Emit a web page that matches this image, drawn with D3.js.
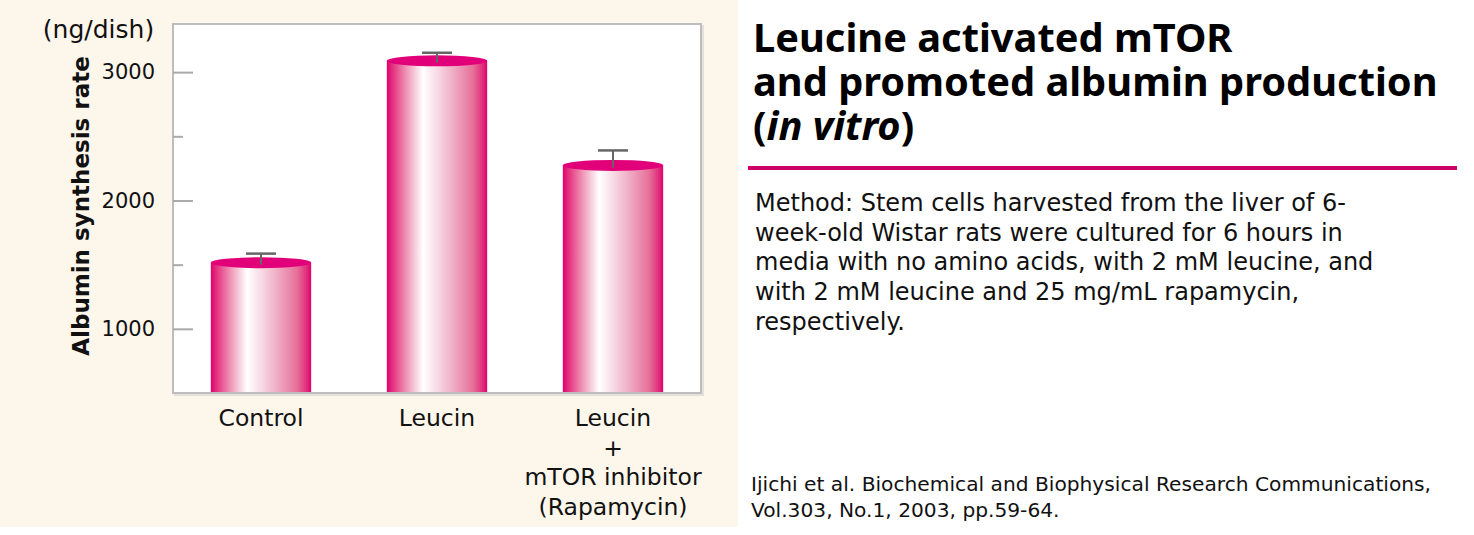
<!DOCTYPE html>
<html><head><meta charset="utf-8">
<script src="https://cdn.jsdelivr.net/npm/d3@7"></script>
<style>
html,body{margin:0;padding:0;background:#fff;}
svg{display:block;}
</style></head>
<body>
<svg id="c" width="1474" height="535"></svg>
<script>
// ---- data ----
const categories = ["Control", "Leucin", "Leucin|+|mTOR inhibitor|(Rapamycin)"];
const values = [1515, 3088, 2273];
const errorTops = [1586, 3151, 2390];
const majorTicks = [1000, 2000, 3000];
const minorTicks = [1500, 2500];
const unitLabel = "(ng/dish)";
const yTitle = "Albumin synthesis rate";
const titleLines = ["Leucine activated mTOR", "and promoted albumin production"];
const methodLines = [
  "Method: Stem cells harvested from the liver of 6-",
  "week-old Wistar rats were cultured for 6 hours in",
  "media with no amino acids, with 2 mM leucine, and",
  "with 2 mM leucine and 25 mg/mL rapamycin,",
  "respectively."
];
const citeLines = [
  "Ijichi et al. Biochemical and Biophysical Research Communications,",
  "Vol.303, No.1, 2003, pp.59-64."
];

const svg = d3.select("#c");
const chartFont = "'DejaVu Sans', Verdana, sans-serif";

// cream panel
svg.append("rect").attr("x",0).attr("y",0).attr("width",738).attr("height",527).attr("fill","#fcf6eb");

const plot = {left:173, top:24, right:701, bottom:393};
const y = d3.scaleLinear().domain([500, 3375]).range([plot.bottom, plot.top]);
const x = d3.scaleBand().domain(categories).range([plot.left, plot.right]).padding(0);
const barW = x.bandwidth() * 0.57;

// frame shadow + plot area
svg.append("rect").attr("x",plot.left+2).attr("y",plot.top+2)
  .attr("width",plot.right-plot.left).attr("height",plot.bottom-plot.top)
  .attr("fill","none").attr("stroke","#e4e0da").attr("stroke-width",2);
svg.append("rect").attr("x",plot.left).attr("y",plot.top)
  .attr("width",plot.right-plot.left).attr("height",plot.bottom-plot.top)
  .attr("fill","#ffffff");

// gradient
const defs = svg.append("defs");
const g = defs.append("linearGradient").attr("id","barGrad").attr("x1","0%").attr("x2","100%").attr("y1","0%").attr("y2","0%");
[[0,"#e2006f"],[0.06,"#e4337f"],[0.2,"#ef98b8"],[0.36,"#ffffff"],[0.5,"#f8dbe5"],[0.68,"#eea7c1"],[0.86,"#e67099"],[0.96,"#e02a7a"],[1,"#e0006e"]]
  .forEach(([o,c]) => g.append("stop").attr("offset",o).attr("stop-color",c));

// bars
const bars = svg.append("g");
categories.forEach((c,i) => {
  const cx = x(c) + x.bandwidth()/2;
  bars.append("rect").attr("x",cx-barW/2).attr("y",y(values[i])).attr("width",barW)
    .attr("height",plot.bottom - y(values[i])).attr("fill","url(#barGrad)");
  bars.append("ellipse").attr("cx",cx).attr("cy",y(values[i])).attr("rx",barW/2).attr("ry",5.5)
    .attr("fill","#e2007a");
  // error bar
  bars.append("line").attr("x1",cx).attr("x2",cx).attr("y1",y(values[i])+2).attr("y2",y(errorTops[i]))
    .attr("stroke","#666").attr("stroke-width",2);
  bars.append("line").attr("x1",cx-15).attr("x2",cx+15).attr("y1",y(errorTops[i])).attr("y2",y(errorTops[i]))
    .attr("stroke","#666").attr("stroke-width",2.5);
});

// frame
svg.append("rect").attr("x",plot.left).attr("y",plot.top)
  .attr("width",plot.right-plot.left).attr("height",plot.bottom-plot.top)
  .attr("fill","none").attr("stroke","#bdbdbd").attr("stroke-width",2);

// y axis major
const yAxis = svg.append("g").attr("transform",`translate(${plot.left},0)`)
  .call(d3.axisLeft(y).tickValues(majorTicks).tickSizeInner(-20).tickSizeOuter(0).tickPadding(18).tickFormat(d3.format("d")));
yAxis.select(".domain").remove();
yAxis.selectAll(".tick line").attr("stroke","#aaaaaa").attr("stroke-width",2);
yAxis.selectAll(".tick text").attr("font-family",chartFont).attr("font-size",21).attr("fill","#111");
// y axis minor
const yMinor = svg.append("g").attr("transform",`translate(${plot.left},0)`)
  .call(d3.axisLeft(y).tickValues(minorTicks).tickSizeInner(-10).tickSizeOuter(0).tickFormat(""));
yMinor.select(".domain").remove();
yMinor.selectAll(".tick line").attr("stroke","#aaaaaa").attr("stroke-width",2);

// x axis
const xAxis = svg.append("g").attr("transform",`translate(0,${plot.bottom})`)
  .call(d3.axisBottom(x).tickSize(0).tickPadding(0));
xAxis.select(".domain").remove();
xAxis.selectAll(".tick text").each(function(d){
  const t = d3.select(this);
  t.text(null).attr("font-family",chartFont).attr("font-size",23.5).attr("fill","#111").attr("dy",null).attr("y",0);
  d.split("|").forEach((line,k) => {
    t.append("tspan").attr("x",0).attr("y",33 + k*29.5).text(line);
  });
});

// unit label
svg.append("text").attr("x",98.5).attr("y",38).attr("text-anchor","middle")
  .attr("font-family",chartFont).attr("font-size",25).attr("fill","#111").text(unitLabel);
// y title
svg.append("text").attr("transform",`translate(89,206) rotate(-90)`)
  .attr("text-anchor","middle").attr("font-family",chartFont).attr("font-weight","bold")
  .attr("font-size",23).attr("fill","#111").text(yTitle);

// right panel
const titleFont = "'Noto Sans', 'Open Sans', sans-serif";
const tg = svg.append("g").attr("font-family",titleFont).attr("font-weight","bold").attr("font-size",39.8).attr("fill","#000");
titleLines.forEach((l,i) => tg.append("text").attr("x",753).attr("y",52 + i*44).text(l));
const t3 = tg.append("text").attr("x",753).attr("y",140);
t3.append("tspan").text("(");
t3.append("tspan").attr("font-style","italic").text("in vitro");
t3.append("tspan").text(")");

svg.append("rect").attr("x",748).attr("y",166).attr("width",709).attr("height",4).attr("fill","#cc0066");

const mg = svg.append("g").attr("font-family",chartFont).attr("font-size",24).attr("fill","#111");
methodLines.forEach((l,i) => mg.append("text").attr("x",755).attr("y",211 + i*29.7).text(l));
const cg = svg.append("g").attr("font-family",chartFont).attr("font-size",20.2).attr("fill","#111");
citeLines.forEach((l,i) => cg.append("text").attr("x",751).attr("y",490.5 + i*26).text(l));
</script>
</body></html>
